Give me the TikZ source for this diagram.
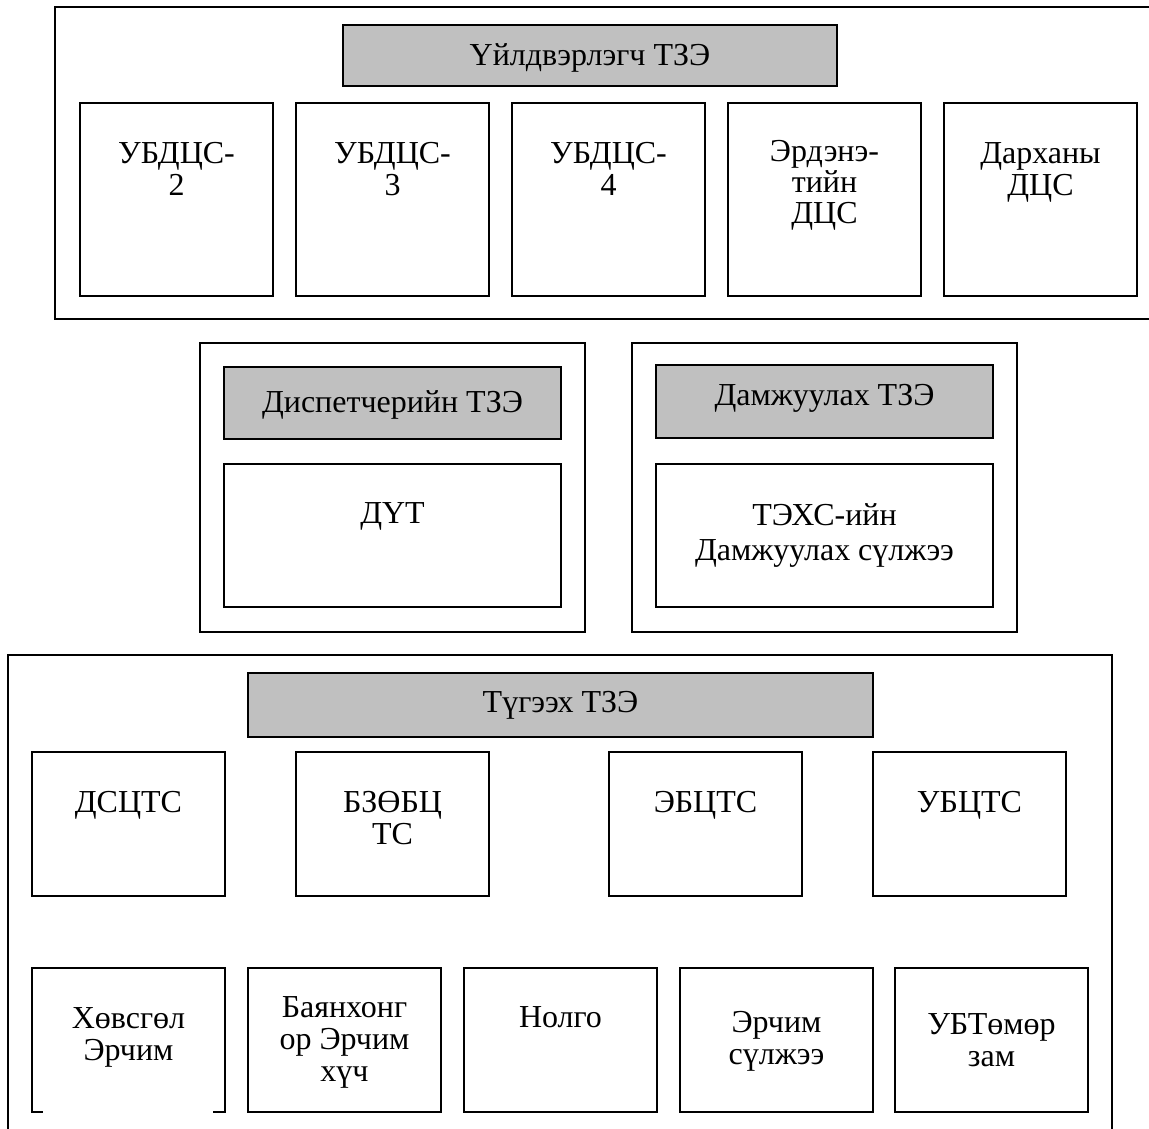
\documentclass[tikz,border=0pt]{standalone}
\usepackage{fontspec}
\setmainfont{Liberation Serif}
\newcommand\lbfont{\fontsize{32}{32}\selectfont}
\definecolor{hdr}{RGB}{192,192,192}
\begin{document}
\begin{tikzpicture}[x=1pt,y=-1pt,
  frame/.style={draw, line width=1.6pt},
  box/.style={draw, line width=1.6pt, rectangle, inner sep=0pt},
  sq/.style={box, minimum width=193pt, minimum height=193pt},
  cell/.style={box, minimum width=193pt, minimum height=144pt},
  hbox/.style={box, fill=hdr},
  txt/.style={anchor=north, inner sep=0pt, align=center, font=\lbfont, yshift=22.4pt}]
\useasboundingbox (0,0) rectangle (1149,1129);
\fill[white] (0,0) rectangle (1149,1129);

% ---------------- Production group ----------------
\draw[frame] (1155,7) -- (55,7) -- (55,319) -- (1155,319);
\node[hbox, minimum width=494pt, minimum height=61pt] (prodh) at (590,55.5) {};
\node[txt] (prodt) at (590,65) {\strut Үйлдвэрлэгч ТЗЭ};

\node[sq] (p1) at (176.5,199.5) {};
\node[sq] (p2) at (392.5,199.5) {};
\node[sq] (p3) at (608.5,199.5) {};
\node[sq] (p4) at (824.5,199.5) {};
\node[sq] (p5) at (1040.5,199.5) {};
\node[txt] (p1t) at (176.5,163) {\strut УБДЦС-\\2};
\node[txt] (p2t) at (392.5,163) {\strut УБДЦС-\\3};
\node[txt] (p3t) at (608.5,163) {\strut УБДЦС-\\4};
\node[txt] (p4t) at (824.5,161) {\strut Эрдэнэ-\\[-1pt]тийн\\[-1pt]ДЦС};
\node[txt] (p5t) at (1040.5,163) {\strut Дарханы\\ДЦС};

% ---------------- Dispatch group ----------------
\node[box, minimum width=385pt, minimum height=289pt] (dg) at (392.5,487.5) {};
\node[hbox, minimum width=337pt, minimum height=72pt] (dh) at (392.5,403) {};
\node[txt] (dht) at (392.5,412) {\strut Диспетчерийн ТЗЭ};
\node[box, minimum width=337pt, minimum height=143pt] (dc) at (392.5,535.5) {};
\node[txt] (dct) at (392.5,523) {\strut ДҮТ};

% ---------------- Transmission group ----------------
\node[box, minimum width=385pt, minimum height=289pt] (tg) at (824.5,487.5) {};
\node[hbox, minimum width=337pt, minimum height=73pt] (th) at (824.5,401.5) {};
\node[txt] (tht) at (824.5,405) {\strut Дамжуулах ТЗЭ};
\node[box, minimum width=337pt, minimum height=143pt] (tc) at (824.5,535.5) {};
\node[txt] (tct) at (824.5,525) {\strut ТЭХС-ийн\\[3pt]Дамжуулах сүлжээ};

% ---------------- Distribution group ----------------
\draw[frame] (8,1135) -- (8,655) -- (1112,655) -- (1112,1135);
\node[hbox, minimum width=625pt, minimum height=64pt] (gh) at (560.5,705) {};
\node[txt] (ght) at (560.5,712) {\strut Түгээх ТЗЭ};

\node[cell] (a1) at (128.5,824) {};
\node[cell] (a2) at (392.5,824) {};
\node[cell] (a3) at (705.5,824) {};
\node[cell] (a4) at (969.5,824) {};
\node[txt] (a1t) at (128.5,812) {\strut ДСЦТС};
\node[txt] (a2t) at (392.5,812) {\strut БЗӨБЦ\\ТС};
\node[txt] (a3t) at (705.5,812) {\strut ЭБЦТС};
\node[txt] (a4t) at (969.5,812) {\strut УБЦТС};

\node[cell] (b1) at (128.5,1040) {};
\fill[white] (43,1108) rectangle (213,1116);
\node[cell] (b2) at (344.5,1040) {};
\node[cell] (b3) at (560.5,1040) {};
\node[cell] (b4) at (776.5,1040) {};
\node[cell] (b5) at (991.5,1040) {};
\node[txt] (b1t) at (128.5,1028) {\strut Хөвсгөл\\Эрчим};
\node[txt] (b2t) at (344.5,1017) {\strut Баянхонг\\ор Эрчим\\хүч};
\node[txt] (b3t) at (560.5,1027) {\strut Нолго};
\node[txt] (b4t) at (776.5,1032) {\strut Эрчим\\сүлжээ};
\node[txt] (b5t) at (991.5,1034) {\strut УБТөмөр\\зам};
\end{tikzpicture}
\end{document}
